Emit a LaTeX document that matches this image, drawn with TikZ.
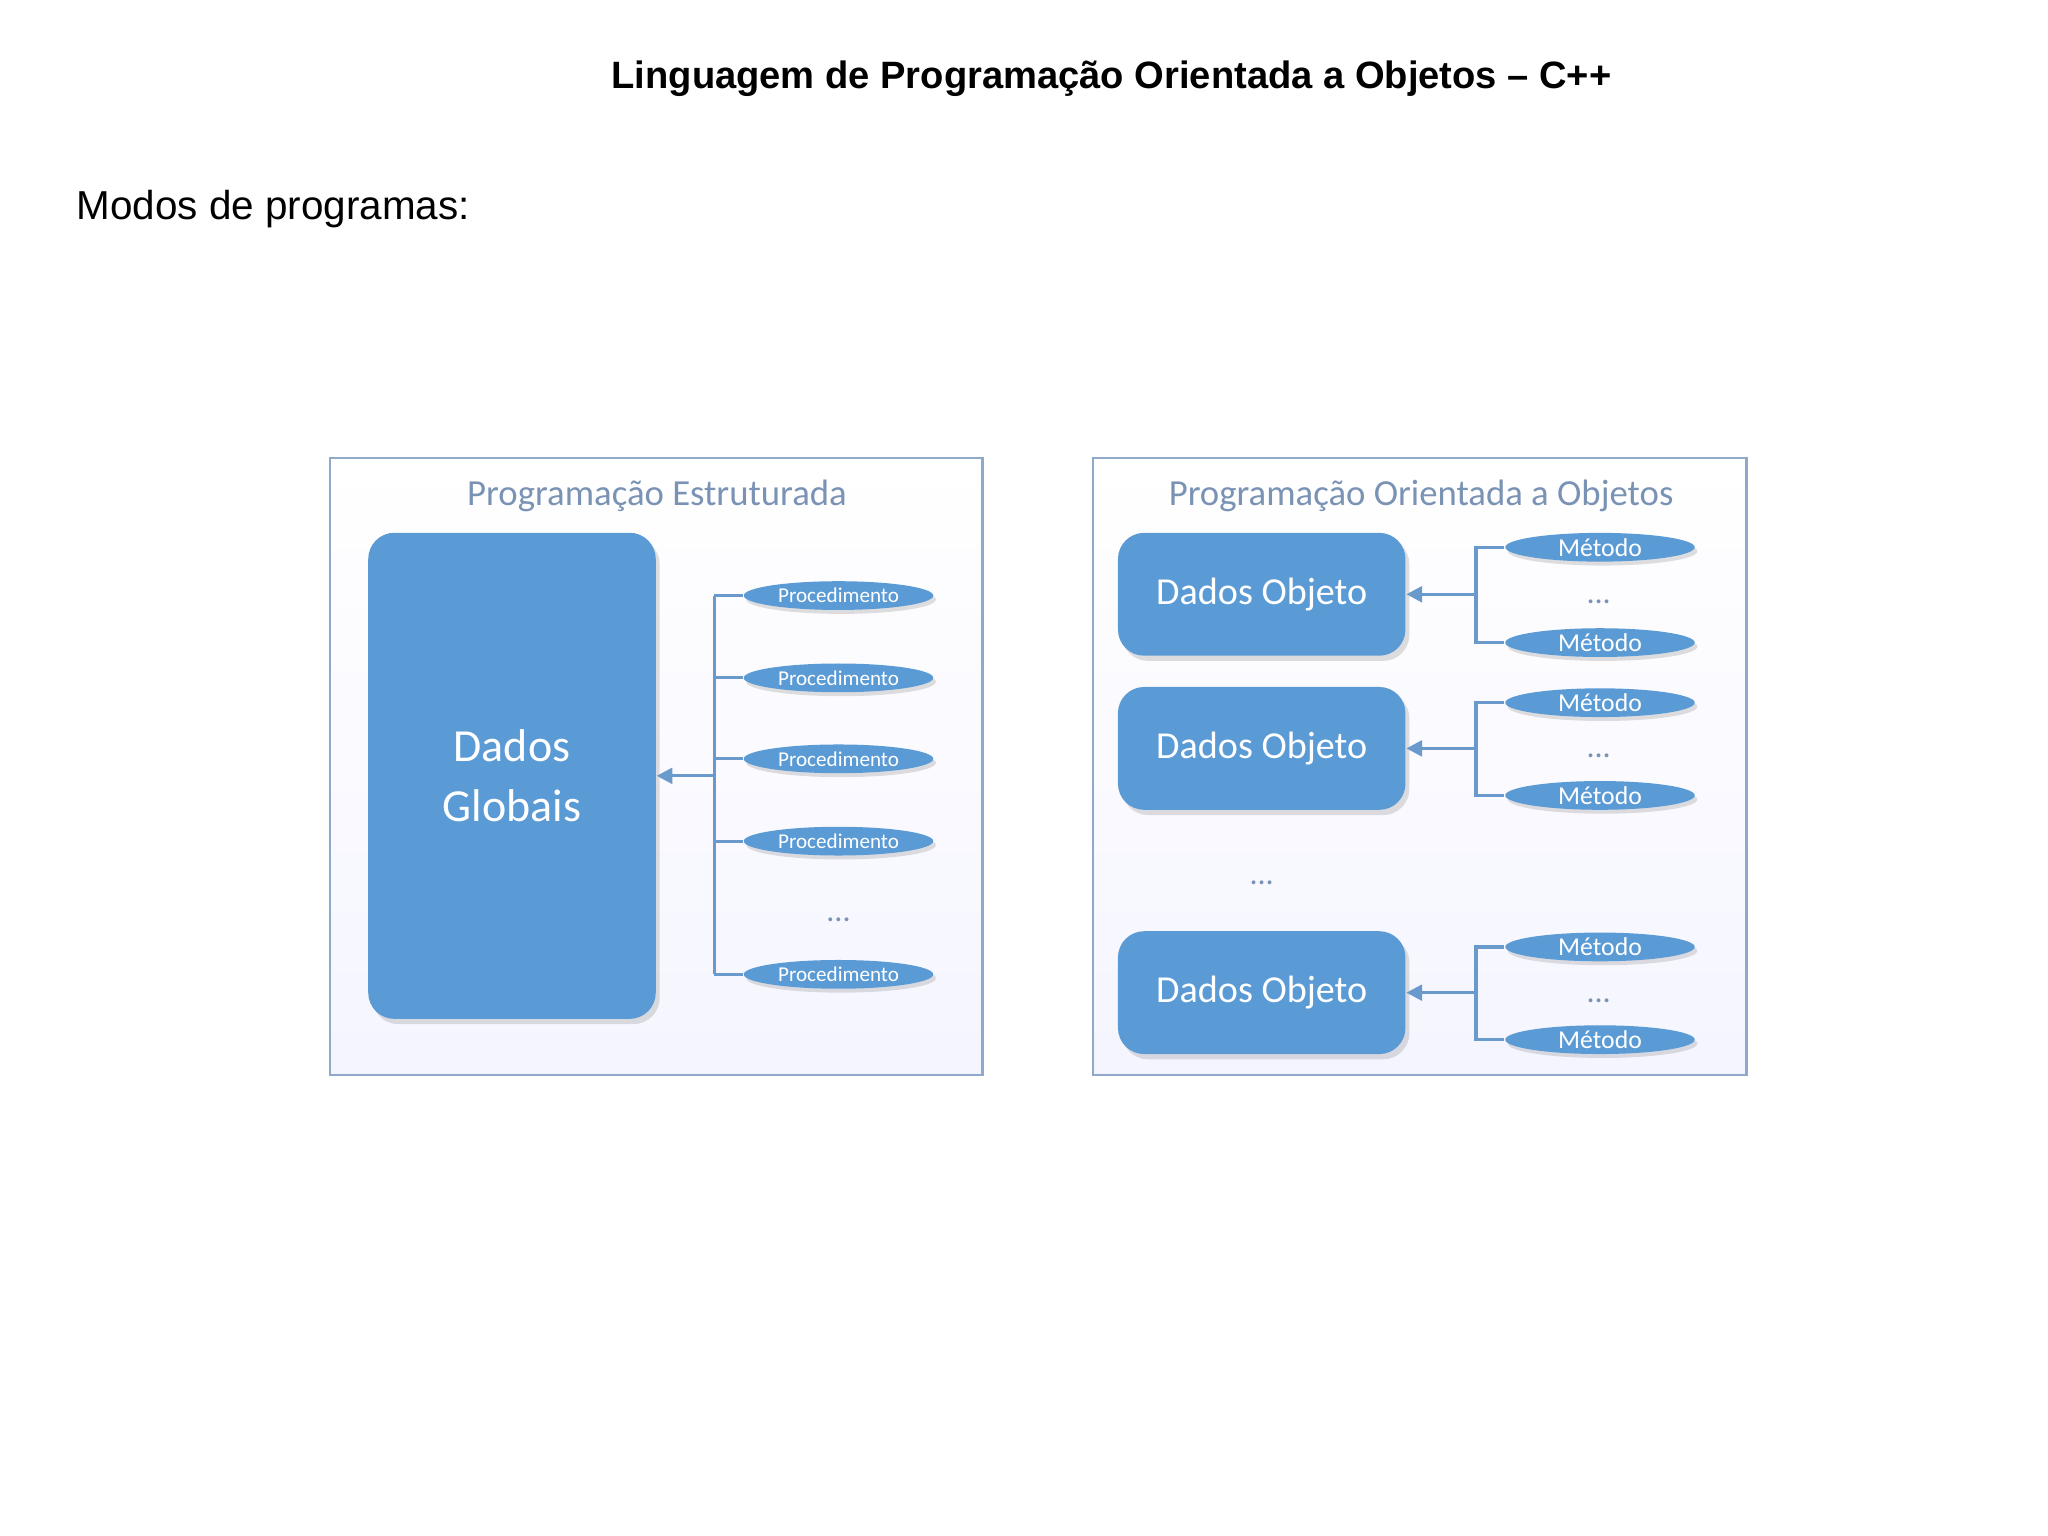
\documentclass[tikz,border=0pt]{standalone}
\usepackage{fontspec}
\setmainfont{Liberation Sans}
\newfontfamily\calfont{Carlito}
\usetikzlibrary{shapes.geometric,shadows,arrows.meta}
\definecolor{bl}{HTML}{5B9BD5}
\definecolor{fr}{HTML}{8EA9C9}
\definecolor{tt}{HTML}{7A93B5}
\definecolor{ln}{HTML}{6A9ACB}
\tikzset{
 frame/.style={draw=fr,line width=0.5pt,top color=white,bottom color=blue!4},
 bigbox/.style={fill=bl,rounded corners=0.2cm,drop shadow={shadow xshift=0.03cm,shadow yshift=-0.04cm,opacity=0.25},text=white,font=\calfont\fontsize{10}{13}\selectfont,align=center},
 obj/.style={fill=bl,rounded corners=0.2cm,drop shadow={shadow xshift=0.03cm,shadow yshift=-0.04cm,opacity=0.25},text=white,font=\calfont\fontsize{8.3}{10}\selectfont,minimum width=2.2cm,minimum height=0.94cm},
 ell/.style={ellipse,fill=bl,drop shadow={shadow xshift=0.02cm,shadow yshift=-0.03cm,opacity=0.25},text=white,font=\calfont\fontsize{4.6}{5}\selectfont,minimum width=1.45cm,minimum height=0.22cm,inner sep=0pt},
 ftitle/.style={text=tt,font=\calfont\fontsize{8}{10}\selectfont},
 dots/.style={text=tt,font=\calfont\fontsize{7}{8}\selectfont},
 con/.style={draw=ln,line width=0.7pt},
 arr/.style={con,-{Triangle[length=0.12cm,width=0.12cm]}}
}
\begin{document}
\begin{tikzpicture}[x=0.01cm,y=-0.01cm]
\useasboundingbox[fill=white] (0,0) rectangle (1568,1176);
\node[font=\bfseries\fontsize{8.3}{10}\selectfont] (title) at (851,60) {Linguagem de Programação Orientada a Objetos – C++};
\node[anchor=west,font=\fontsize{8.8}{10}\selectfont,inner sep=0pt] (modos) at (58,160) {Modos de programas:};
% left
\node[frame,minimum width=4.99cm,minimum height=4.72cm] (lf) at (502.5,587) {};
\node[ftitle] (lt) at (503,380) {Programação Estruturada};
\node[bigbox,minimum width=2.2cm,minimum height=3.72cm] (dg) at (392,594) {Dados\\Globais};
\foreach \y/\n in {456/p1,519/p2,581/p3,644/p4,746/p5}{
 \node[ell] (\n) at (642,\y) {Procedimento};
 \coordinate (c\n) at (547,\y);
 \draw[con] (c\n) -- (\n.west);
}
\node[dots] (ld) at (642,704) {...};
\draw[con] (cp1) -- (cp5);
\coordinate (la) at (547,594);
\draw[arr] (la) -- (dg.east |- la);
% right
\node[frame,minimum width=5cm,minimum height=4.72cm] (rf) at (1087,587) {};
\node[ftitle] (rt) at (1088,380) {Programação Orientada a Objetos};
\foreach \i/\y/\a/\b in {1/455/419/492,2/573/538/609,3/760/725/796}{
 \node[obj] (o\i) at (966,\y) {Dados Objeto};
 \node[ell,font=\calfont\fontsize{5.6}{6}\selectfont] (ma\i) at (1225,\a) {Método};
 \node[ell,font=\calfont\fontsize{5.6}{6}\selectfont] (mb\i) at (1225,\b) {Método};
 \node[dots] (md\i) at (1224,\y+6) {...};
 \coordinate (ta\i) at (1130,\a);
 \coordinate (tb\i) at (1130,\b);
 \coordinate (tm\i) at (1130,\y);
 \draw[con] (ma\i.west) -- (ta\i) -- (tb\i) -- (mb\i.west);
 \draw[arr] (tm\i) -- (o\i.east);
}
\node[dots] (od) at (966,676) {...};
\end{tikzpicture}
\end{document}
